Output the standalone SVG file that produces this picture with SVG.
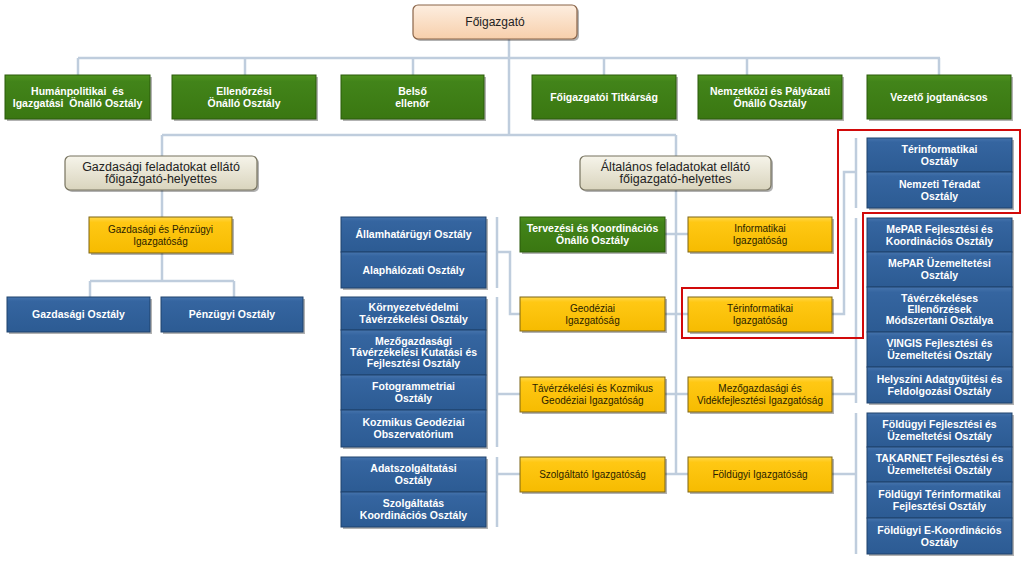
<svg xmlns="http://www.w3.org/2000/svg" width="1024" height="568" viewBox="0 0 1024 568">
<defs>
<linearGradient id="gGreen" x1="0" y1="0" x2="0" y2="1"><stop offset="0" stop-color="#4f931d"/><stop offset="0.15" stop-color="#42841a"/><stop offset="1" stop-color="#3a7711"/></linearGradient>
<linearGradient id="gBlue" x1="0" y1="0" x2="0" y2="1"><stop offset="0" stop-color="#4674ad"/><stop offset="0.12" stop-color="#3565a0"/><stop offset="1" stop-color="#2c5b93"/></linearGradient>
<linearGradient id="gYellow" x1="0" y1="0" x2="0" y2="1"><stop offset="0" stop-color="#ffd84a"/><stop offset="0.15" stop-color="#ffc814"/><stop offset="1" stop-color="#f6bb00"/></linearGradient>
<linearGradient id="gPeach" x1="0" y1="0" x2="0" y2="1"><stop offset="0" stop-color="#fdeee0"/><stop offset="1" stop-color="#f7cfab"/></linearGradient>
<linearGradient id="gBeige" x1="0" y1="0" x2="0" y2="1"><stop offset="0" stop-color="#f6f4ea"/><stop offset="1" stop-color="#d9d4bd"/></linearGradient>
</defs>
<style>
.sh{fill:#000;fill-opacity:0.3}
.green{fill:url(#gGreen);stroke:#2b5a0b;stroke-width:1}
.blue{fill:url(#gBlue);stroke:#1f426d;stroke-width:1}
.yellow{fill:url(#gYellow);stroke:#7d6514;stroke-width:1}
.peach{fill:url(#gPeach);stroke:#8a6448;stroke-width:1.2}
.beige{fill:url(#gBeige);stroke:#77735f;stroke-width:1.2}
.tw{font-family:"Liberation Sans",Arial,sans-serif;font-size:10.5px;font-weight:bold;fill:#fff;text-anchor:middle}
.ty{font-family:"Liberation Sans",Arial,sans-serif;font-size:10px;fill:#2a1e00;text-anchor:middle}
.tt{font-family:"Liberation Sans",Arial,sans-serif;font-size:12px;fill:#222;text-anchor:middle}
.td{font-family:"Liberation Sans",Arial,sans-serif;font-size:12.5px;fill:#222;text-anchor:middle}
.pre{white-space:pre}
.con{fill:none;stroke:#bfcddd;stroke-width:2.5}
.red{fill:none;stroke:#d10a0a;stroke-width:2}
</style>
<rect width="1024" height="568" fill="#fff"/>

<g id="connectors" class="con">
<path d="M509,39 V135"/>
<path d="M78,58 H940 M78,58 V75 M245,58 V75 M413,58 V75 M604,58 V75 M747,58 V75 M939,58 V75"/>
<path d="M162,135 H676 M162,135 V156 M676,135 V156"/>
<path d="M162,190 V217 M162,253 V281 M90,281 H234 M90,281 V297 M234,281 V297"/>
<path d="M676,190 V474 M665,234 H688 M665,314 H688 M665,394 H688 M665,474 H688"/>
<path d="M497,217 V288 M497,252 H510 V314 H520"/>
<path d="M497,297 V447 M497,394 H520"/>
<path d="M497,457 V527 M497,474 H520"/>
<path d="M856,138 V208 M856,172 H844 V314 H832"/>
<path d="M856,218 V403 M832,394 H856"/>
<path d="M856,413 V554 M832,474 H856"/>
</g>

<g id="foigazgato">
<rect class="sh" x="415" y="7" width="164" height="34" rx="5"/>
<rect class="peach" x="413" y="5" width="164" height="34" rx="5"/>
<text class="tt" x="495" y="26.2">Főigazgató</text>
</g>

<g id="humanpolitikai">
<rect class="sh" x="7" y="77" width="145" height="44"/>
<rect class="green" x="5" y="75" width="145" height="44"/>
<text class="tw pre" x="77.5" y="94.7">Humánpolitikai  és</text>
<text class="tw pre" x="77.5" y="106.7">Igazgatási  Önálló Osztály</text>
</g>
<g id="ellenorzesi">
<rect class="sh" x="174" y="77" width="144" height="44"/>
<rect class="green" x="172" y="75" width="144" height="44"/>
<text class="tw" x="244" y="94.7">Ellenőrzési</text>
<text class="tw" x="244" y="106.7">Önálló Osztály</text>
</g>
<g id="belso-ellenor">
<rect class="sh" x="343" y="77" width="143" height="44"/>
<rect class="green" x="341" y="75" width="143" height="44"/>
<text class="tw" x="412.5" y="94.7">Belső</text>
<text class="tw" x="412.5" y="106.7">ellenőr</text>
</g>
<g id="titkarsag">
<rect class="sh" x="534" y="77" width="144" height="44"/>
<rect class="green" x="532" y="75" width="144" height="44"/>
<text class="tw" x="604" y="100.7">Főigazgatói Titkárság</text>
</g>
<g id="nemzetkozi">
<rect class="sh" x="700" y="77" width="144" height="44"/>
<rect class="green" x="698" y="75" width="144" height="44"/>
<text class="tw" x="770" y="94.7">Nemzetközi és Pályázati</text>
<text class="tw" x="770" y="106.7">Önálló Osztály</text>
</g>
<g id="jogtanacsos">
<rect class="sh" x="869" y="77" width="144" height="44"/>
<rect class="green" x="867" y="75" width="144" height="44"/>
<text class="tw" x="939" y="100.7">Vezető jogtanácsos</text>
</g>

<g id="gazdasagi-helyettes">
<rect class="sh" x="67" y="158" width="192" height="34" rx="5"/>
<rect class="beige" x="65" y="156" width="192" height="34" rx="5"/>
<text class="td" x="161" y="171.4">Gazdasági feladatokat ellátó</text>
<text class="td" x="161" y="183.4">főigazgató-helyettes</text>
</g>
<g id="altalanos-helyettes">
<rect class="sh" x="582" y="158" width="191" height="34" rx="5"/>
<rect class="beige" x="580" y="156" width="191" height="34" rx="5"/>
<text class="td" x="675.5" y="171.4">Általános feladatokat ellátó</text>
<text class="td" x="675.5" y="183.4">főigazgató-helyettes</text>
</g>

<g id="gazd-penzugyi">
<rect class="sh" x="91" y="219" width="143" height="36"/>
<rect class="yellow" x="89" y="217" width="143" height="36"/>
<text class="ty" x="160.5" y="232.5">Gazdasági és Pénzügyi</text>
<text class="ty" x="160.5" y="244.5">Igazgatóság</text>
</g>
<g id="gazdasagi-osztaly">
<rect class="sh" x="9" y="299" width="143" height="35"/>
<rect class="blue" x="7" y="297" width="143" height="35"/>
<text class="tw" x="78.5" y="318.2">Gazdasági Osztály</text>
</g>
<g id="penzugyi-osztaly">
<rect class="sh" x="163" y="299" width="142" height="35"/>
<rect class="blue" x="161" y="297" width="142" height="35"/>
<text class="tw" x="232" y="318.2">Pénzügyi Osztály</text>
</g>

<g id="tervezesi">
<rect class="sh" x="522" y="219" width="145" height="35"/>
<rect class="green" x="520" y="217" width="145" height="35"/>
<text class="tw" x="592.5" y="232.2">Tervezési és Koordinációs</text>
<text class="tw" x="592.5" y="244.2">Önálló Osztály</text>
</g>
<g id="geodeziai-ig">
<rect class="sh" x="522" y="299" width="145" height="34"/>
<rect class="yellow" x="520" y="297" width="145" height="34"/>
<text class="ty" x="592.5" y="311.5">Geodéziai</text>
<text class="ty" x="592.5" y="323.5">Igazgatóság</text>
</g>
<g id="taverzekelesi-ig">
<rect class="sh" x="522" y="379" width="145" height="35"/>
<rect class="yellow" x="520" y="377" width="145" height="35"/>
<text class="ty" x="592.5" y="392">Távérzékelési és Kozmikus</text>
<text class="ty" x="592.5" y="404">Geodéziai Igazgatóság</text>
</g>
<g id="szolgaltato-ig">
<rect class="sh" x="522" y="459" width="145" height="35"/>
<rect class="yellow" x="520" y="457" width="145" height="35"/>
<text class="ty" x="592.5" y="478">Szolgáltató Igazgatóság</text>
</g>

<g id="informatikai-ig">
<rect class="sh" x="690" y="219" width="144" height="35"/>
<rect class="yellow" x="688" y="217" width="144" height="35"/>
<text class="ty" x="760" y="232">Informatikai</text>
<text class="ty" x="760" y="244">Igazgatóság</text>
</g>
<g id="terinformatikai-ig">
<rect class="sh" x="690" y="299" width="144" height="35"/>
<rect class="yellow" x="688" y="297" width="144" height="35"/>
<text class="ty" x="760" y="312">Térinformatikai</text>
<text class="ty" x="760" y="324">Igazgatóság</text>
</g>
<g id="mezogazdasagi-ig">
<rect class="sh" x="690" y="379" width="144" height="35"/>
<rect class="yellow" x="688" y="377" width="144" height="35"/>
<text class="ty" x="760" y="392">Mezőgazdasági és</text>
<text class="ty" x="760" y="404">Vidékfejlesztési Igazgatóság</text>
</g>
<g id="foldugyi-ig">
<rect class="sh" x="690" y="459" width="144" height="35"/>
<rect class="yellow" x="688" y="457" width="144" height="35"/>
<text class="ty" x="760" y="478">Földügyi Igazgatóság</text>
</g>

<g id="bal-csoport-a">
<rect class="sh" x="343" y="219" width="145" height="71"/>
<rect class="blue" x="341" y="217" width="145" height="35"/>
<text class="tw" x="413.5" y="238.2">Államhatárügyi Osztály</text>
<rect class="blue" x="341" y="252" width="145" height="36"/>
<text class="tw" x="413.5" y="273.7">Alaphálózati Osztály</text>
</g>
<g id="bal-csoport-b">
<rect class="sh" x="343" y="299" width="145" height="150"/>
<rect class="blue" x="341" y="297" width="145" height="33"/>
<text class="tw" x="413.5" y="310.5">Környezetvédelmi</text>
<text class="tw" x="413.5" y="322.5">Távérzékelési Osztály</text>
<rect class="blue" x="341" y="330" width="145" height="45"/>
<text class="tw" x="413.5" y="345.2">Mezőgazdasági</text>
<text class="tw" x="413.5" y="356.2">Távérzékelési Kutatási és</text>
<text class="tw" x="413.5" y="367.2">Fejlesztési Osztály</text>
<rect class="blue" x="341" y="375" width="145" height="35"/>
<text class="tw" x="413.5" y="390.2">Fotogrammetriai</text>
<text class="tw" x="413.5" y="402.2">Osztály</text>
<rect class="blue" x="341" y="410" width="145" height="37"/>
<text class="tw" x="413.5" y="426.2">Kozmikus Geodéziai</text>
<text class="tw" x="413.5" y="438.2">Obszervatórium</text>
</g>
<g id="bal-csoport-c">
<rect class="sh" x="343" y="459" width="145" height="70"/>
<rect class="blue" x="341" y="457" width="145" height="35"/>
<text class="tw" x="413.5" y="472.2">Adatszolgáltatási</text>
<text class="tw" x="413.5" y="484.2">Osztály</text>
<rect class="blue" x="341" y="492" width="145" height="35"/>
<text class="tw" x="413.5" y="507.2">Szolgáltatás</text>
<text class="tw" x="413.5" y="519.2">Koordinációs Osztály</text>
</g>

<g id="jobb-csoport-1">
<rect class="sh" x="869" y="140" width="145" height="70"/>
<rect class="blue" x="867" y="138" width="145" height="34"/>
<text class="tw" x="939.5" y="152.7">Térinformatikai</text>
<text class="tw" x="939.5" y="164.7">Osztály</text>
<rect class="blue" x="867" y="172" width="145" height="36"/>
<text class="tw" x="939.5" y="187.7">Nemzeti Téradat</text>
<text class="tw" x="939.5" y="199.7">Osztály</text>
</g>
<g id="jobb-csoport-2">
<rect class="sh" x="869" y="220" width="145" height="185"/>
<rect class="blue" x="867" y="218" width="145" height="34"/>
<text class="tw" x="939.5" y="232.7">MePAR Fejlesztési és</text>
<text class="tw" x="939.5" y="244.7">Koordinációs Osztály</text>
<rect class="blue" x="867" y="252" width="145" height="35"/>
<text class="tw" x="939.5" y="267.2">MePAR Üzemeltetési</text>
<text class="tw" x="939.5" y="279.2">Osztály</text>
<rect class="blue" x="867" y="287" width="145" height="45"/>
<text class="tw" x="939.5" y="302.2">Távérzékeléses</text>
<text class="tw" x="939.5" y="313.2">Ellenőrzések</text>
<text class="tw" x="939.5" y="324.2">Módszertani Osztálya</text>
<rect class="blue" x="867" y="332" width="145" height="35"/>
<text class="tw" x="939.5" y="347.2">VINGIS Fejlesztési és</text>
<text class="tw" x="939.5" y="359.2">Üzemeltetési Osztály</text>
<rect class="blue" x="867" y="367" width="145" height="36"/>
<text class="tw" x="939.5" y="382.7">Helyszíni Adatgyűjtési és</text>
<text class="tw" x="939.5" y="394.7">Feldolgozási Osztály</text>
</g>
<g id="jobb-csoport-3">
<rect class="sh" x="869" y="415" width="145" height="141"/>
<rect class="blue" x="867" y="413" width="145" height="34"/>
<text class="tw" x="939.5" y="427.7">Földügyi Fejlesztési és</text>
<text class="tw" x="939.5" y="439.7">Üzemeltetési Osztály</text>
<rect class="blue" x="867" y="447" width="145" height="35"/>
<text class="tw" x="939.5" y="462.2">TAKARNET Fejlesztési és</text>
<text class="tw" x="939.5" y="474.2">Üzemeltetési Osztály</text>
<rect class="blue" x="867" y="482" width="145" height="36"/>
<text class="tw" x="939.5" y="497.7">Földügyi Térinformatikai</text>
<text class="tw" x="939.5" y="509.7">Fejlesztési Osztály</text>
<rect class="blue" x="867" y="518" width="145" height="36"/>
<text class="tw" x="939.5" y="533.7">Földügyi E-Koordinációs</text>
<text class="tw" x="939.5" y="545.7">Osztály</text>
</g>

<g id="kiemeles">
<path class="red" d="M838,130 H1020 V213 H863 V338 H682 V288 H838 Z"/>
</g>
</svg>
